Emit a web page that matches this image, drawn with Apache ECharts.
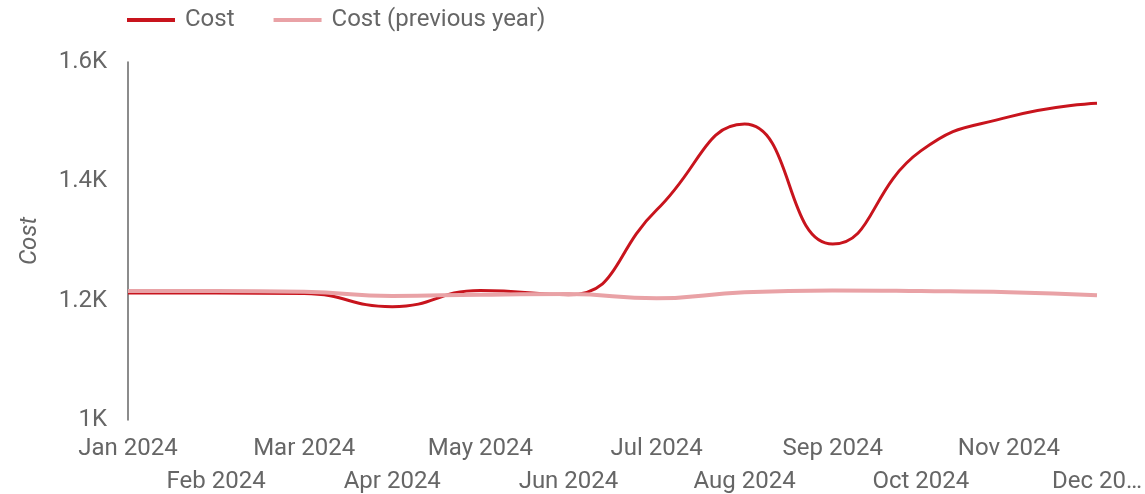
<!DOCTYPE html>
<html>
<head>
<meta charset="utf-8">
<script src="https://cdn.jsdelivr.net/npm/echarts@6/dist/echarts.min.js"></script>
<style>
  html, body { margin: 0; padding: 0; background: #fff; }
  #chart { width: 1145px; height: 494px; }
</style>
</head>
<body>
<div id="chart"></div>
<script>
// Monthly cost, current year vs. previous year
const months = ['Jan 2024', 'Feb 2024', 'Mar 2024', 'Apr 2024', 'May 2024', 'Jun 2024',
                'Jul 2024', 'Aug 2024', 'Sep 2024', 'Oct 2024', 'Nov 2024', 'Dec 2024'];
const cost = [1213, 1213, 1212, 1190, 1217, 1210, 1352, 1496, 1295, 1451, 1508, 1531];
const costPrevYear = [1216, 1216, 1215, 1208, 1210, 1211, 1204, 1214, 1217, 1216, 1214, 1209];
const yTicks = [1000, 1200, 1400, 1600];

const textColor = '#666666';
const font = 'Roboto';
const fontSize = 24;

const chart = echarts.init(document.getElementById('chart'), null, { renderer: 'canvas' });

chart.setOption({
  animation: false,
  color: ['#c8141d', '#e9a2a6'],
  legend: {
    top: 3,
    left: 122,
    itemWidth: 48,
    itemHeight: 4,
    itemGap: 39,
    icon: 'rect',
    textStyle: { color: textColor, fontFamily: font, fontSize: fontSize, padding: [0, 0, 0, 5] },
    data: ['Cost', 'Cost (previous year)']
  },
  grid: { left: 128, right: 48, top: 62, bottom: 74, containLabel: false, outerBoundsMode: 'none' },
  xAxis: {
    type: 'category',
    data: months,
    boundaryGap: false,
    axisLine: { show: false },
    axisTick: { show: false },
    splitLine: { show: false },
    axisLabel: {
      interval: 0,
      color: textColor,
      fontFamily: font,
      fontSize: fontSize,
      margin: 12,
      lineHeight: 33,
      formatter: function (value, idx) {
        // last month is clipped at the right edge
        const text = idx === months.length - 1 ? value.slice(0, 6) + '\u2026' : value;
        // stagger alternate months onto a second row
        return idx % 2 === 1 ? '\n' + text : text;
      }
    }
  },
  yAxis: {
    type: 'value',
    min: yTicks[0],
    max: yTicks[yTicks.length - 1],
    interval: yTicks[1] - yTicks[0],
    name: 'Cost',
    nameLocation: 'middle',
    nameGap: 86,
    nameRotate: 90,
    nameTextStyle: { color: textColor, fontFamily: font, fontSize: fontSize, fontStyle: 'italic' },
    axisLine: { show: true, lineStyle: { color: '#666666', width: 1.5 } },
    axisTick: { show: false },
    splitLine: { show: false },
    axisLabel: {
      color: textColor,
      fontFamily: font,
      fontSize: fontSize,
      margin: 21,
      formatter: function (v) { return (v / 1000) + 'K'; }
    }
  },
  series: [
    {
      name: 'Cost',
      type: 'line',
      data: cost,
      smooth: 0.5,
      symbol: 'none',
      lineStyle: { width: 3 }
    },
    {
      name: 'Cost (previous year)',
      type: 'line',
      data: costPrevYear,
      smooth: 0.5,
      symbol: 'none',
      lineStyle: { width: 4 }
    }
  ]
});
</script>
</body>
</html>
